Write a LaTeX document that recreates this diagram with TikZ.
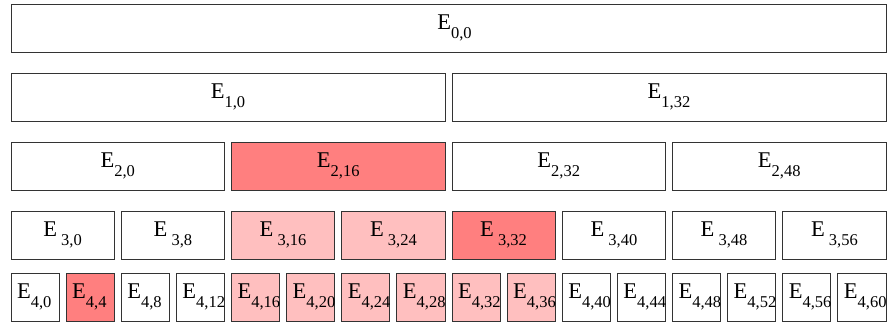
\documentclass[tikz,border=0pt]{standalone}
\usepackage{fontspec}
\setmainfont{Liberation Serif}
\usepackage{tikz}

\definecolor{hot}{HTML}{FF7F7F}
\definecolor{warm}{HTML}{FFBFBF}
\newcommand{\ent}[1]{E\raisebox{-8.5pt}{\fontsize{16.5}{17}\selectfont #1}}
\newcommand{\entl}[1]{\makebox[36pt][l]{\ent{#1}}}

\tikzset{
  cell/.style={draw=black!80,line width=0.9pt,minimum height=48pt,inner sep=0pt,
    font=\fontsize{22.5}{25}\selectfont},
  lvl0/.style={cell,minimum width=875pt},
  lvl1/.style={cell,minimum width=434pt},
  lvl2/.style={cell,minimum width=213.5pt},
  lvl3/.style={cell,minimum width=103.25pt},
  lvl4/.style={cell,minimum width=48.1pt}
}

\begin{document}
\begin{tikzpicture}[x=1pt,y=-1pt]
        \useasboundingbox[fill=white] (0,0) rectangle (887,324);
        % level 0
        \draw (448.5,28) node[lvl0] (E00) {\hspace{12pt}\ent{0,0}};
        % level 1
        \draw (228,97) node[lvl1] (E10) {\ent{1,0}};
        \draw (669,97) node[lvl1] (E132) {\ent{1,32}};
        % level 2
        \draw (117.8,166) node[lvl2] (E20) {\ent{2,0}};
        \draw (338.3,166) node[lvl2,fill=hot] (E216) {\ent{2,16}};
        \draw (558.8,166) node[lvl2] (E232) {\ent{2,32}};
        \draw (779.3,166) node[lvl2] (E248) {\ent{2,48}};
        % level 3
        \draw (62.6,235) node[lvl3] (E30) {\ent{\ 3,0}};
        \draw (172.9,235) node[lvl3] (E38) {\ent{\ 3,8}};
        \draw (283.1,235) node[lvl3,fill=warm] (E316) {\ent{\ 3,16}};
        \draw (393.4,235) node[lvl3,fill=warm] (E324) {\ent{\ 3,24}};
        \draw (503.6,235) node[lvl3,fill=hot] (E332) {\ent{\ 3,32}};
        \draw (613.9,235) node[lvl3] (E340) {\ent{\ 3,40}};
        \draw (724.1,235) node[lvl3] (E348) {\ent{\ 3,48}};
        \draw (834.4,235) node[lvl3] (E356) {\ent{\ 3,56}};
        % level 4
        \draw (35.1,297) node[lvl4] (E40) {\entl{4,0}};
        \draw (90.2,297) node[lvl4,fill=hot] (E44) {\entl{4,4}};
        \draw (145.3,297) node[lvl4] (E48) {\entl{4,8}};
        \draw (200.4,297) node[lvl4] (E412) {\entl{4,12}};
        \draw (255.6,297) node[lvl4,fill=warm] (E416) {\entl{4,16}};
        \draw (310.7,297) node[lvl4,fill=warm] (E420) {\entl{4,20}};
        \draw (365.8,297) node[lvl4,fill=warm] (E424) {\entl{4,24}};
        \draw (420.9,297) node[lvl4,fill=warm] (E428) {\entl{4,28}};
        \draw (476.1,297) node[lvl4,fill=warm] (E432) {\entl{4,32}};
        \draw (531.2,297) node[lvl4,fill=warm] (E436) {\entl{4,36}};
        \draw (586.3,297) node[lvl4] (E440) {\entl{4,40}};
        \draw (641.4,297) node[lvl4] (E444) {\entl{4,44}};
        \draw (696.6,297) node[lvl4] (E448) {\entl{4,48}};
        \draw (751.7,297) node[lvl4] (E452) {\entl{4,52}};
        \draw (806.8,297) node[lvl4] (E456) {\entl{4,56}};
        \draw (861.9,297) node[lvl4] (E460) {\entl{4,60}};
\end{tikzpicture}
\end{document}
